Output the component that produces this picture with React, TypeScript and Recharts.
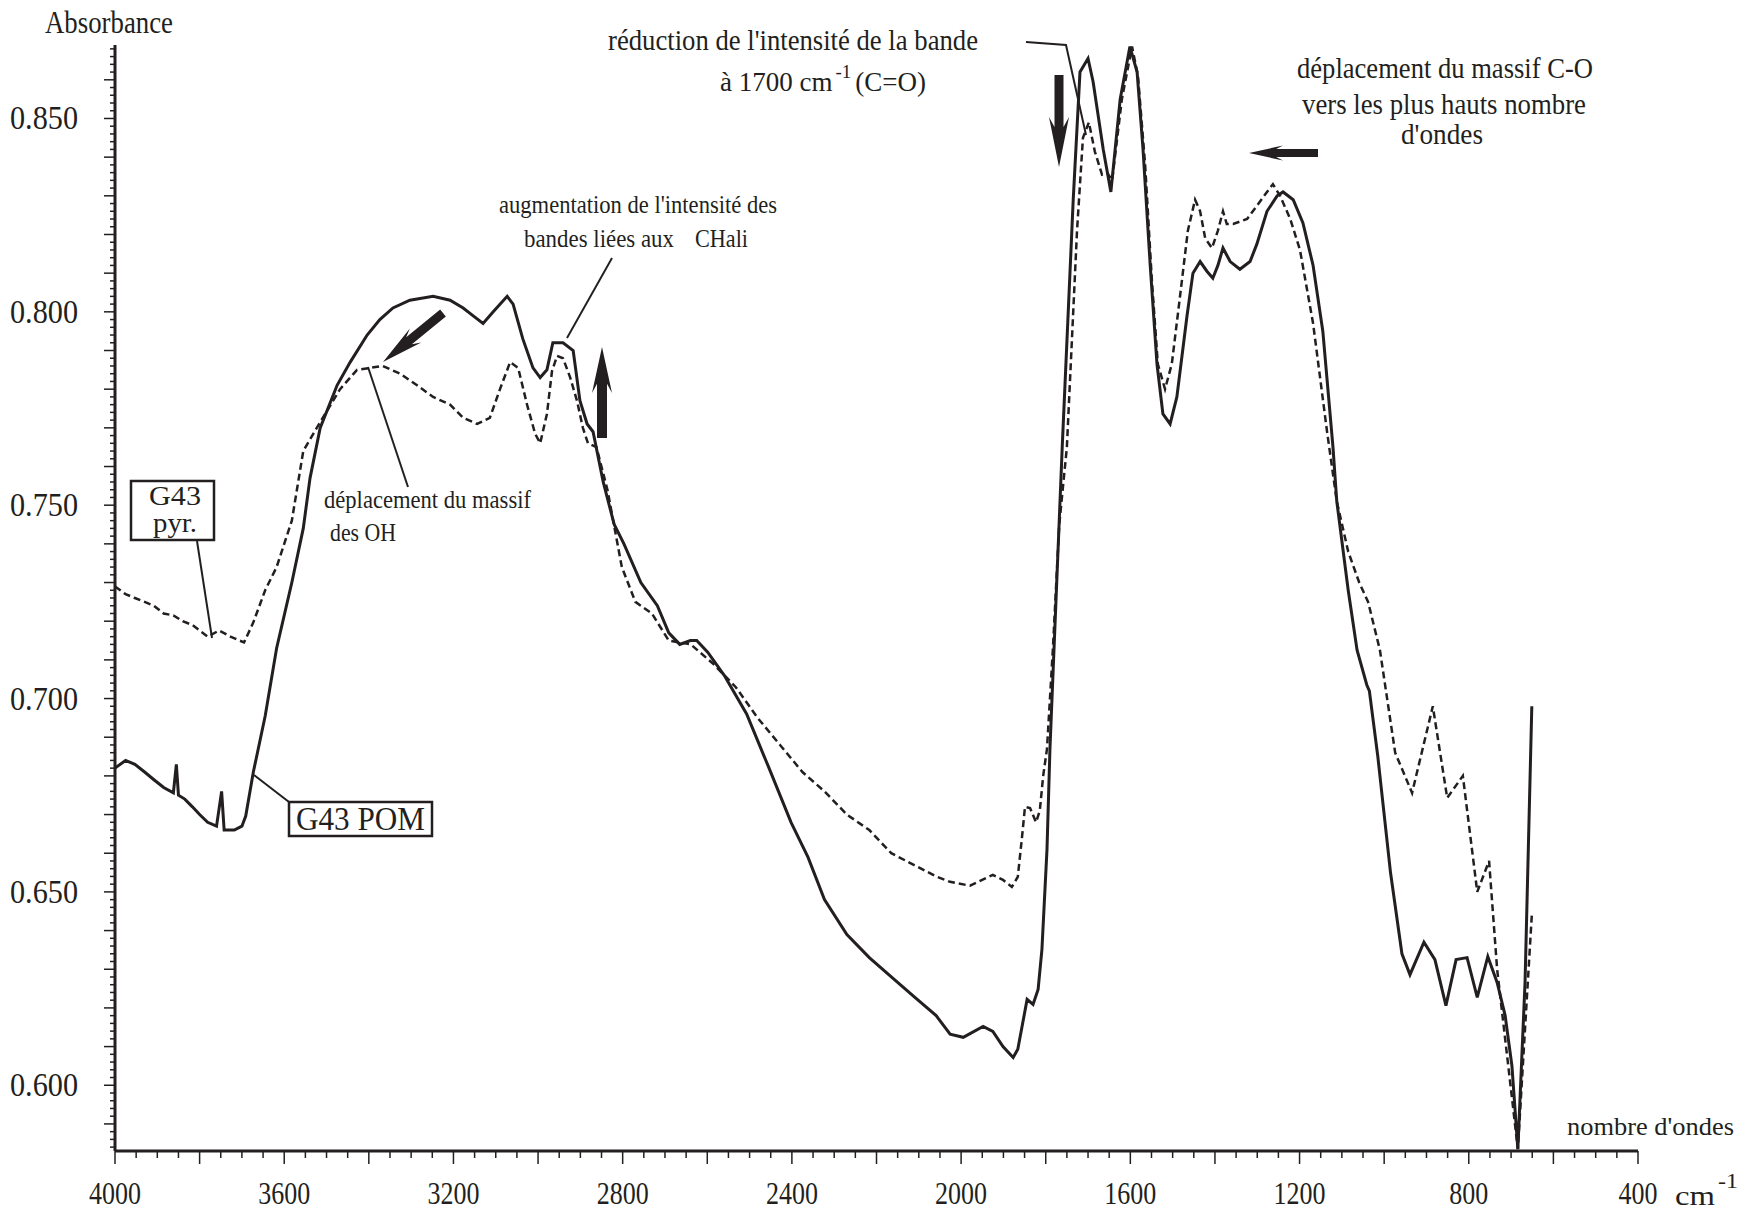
import { Line, LineChart, XAxis, YAxis } from "recharts";

// G43 POM (solid line) : wavenumber (cm-1) / absorbance
const pomWn = [
  4000, 3975, 3953, 3930, 3908, 3885, 3862, 3855, 3850, 3835, 3817, 3800, 3781, 3760, 3748, 3742, 3718, 3700,
  3691, 3673, 3645, 3618, 3582, 3555, 3539, 3515, 3475, 3444, 3404, 3374, 3343, 3303, 3248, 3208, 3177, 3154,
  3130, 3106, 3073, 3059, 3036, 3012, 2995, 2979, 2965, 2941, 2917, 2901, 2884, 2870, 2846, 2820, 2797, 2757,
  2718, 2691, 2665, 2640, 2625, 2599, 2560, 2507, 2454, 2402, 2362, 2323, 2270, 2217, 2165, 2112, 2059, 2026,
  1995, 1948, 1925, 1901, 1877, 1866, 1844, 1830, 1818, 1809, 1797, 1790, 1761, 1735, 1719, 1700, 1688, 1664,
  1646, 1624, 1601, 1584, 1570, 1553, 1537, 1523, 1506, 1490, 1466, 1452, 1435, 1419, 1405, 1393, 1381, 1364,
  1341, 1317, 1301, 1277, 1253, 1239, 1215, 1192, 1168, 1145, 1121, 1112, 1085, 1064, 1041, 1035, 1015, 985,
  958, 939, 906, 880, 854, 830, 804, 780, 755, 733, 714, 698, 684, 667, 651,
];
const pomAbs = [
  0.682, 0.684, 0.683, 0.681, 0.679, 0.677, 0.6756, 0.683, 0.675, 0.674, 0.672, 0.67, 0.668, 0.667, 0.676, 0.666,
  0.666, 0.667, 0.6696, 0.681, 0.6955, 0.713, 0.73, 0.744, 0.757, 0.77, 0.781, 0.787, 0.794, 0.798, 0.801, 0.803,
  0.804, 0.803, 0.801, 0.799, 0.797, 0.8, 0.804, 0.802, 0.793, 0.7855, 0.783, 0.785, 0.792, 0.792, 0.79, 0.777,
  0.771, 0.769, 0.756, 0.745, 0.74, 0.73, 0.724, 0.717, 0.714, 0.715, 0.715, 0.712, 0.706, 0.696, 0.682, 0.668,
  0.659, 0.648, 0.639, 0.633, 0.628, 0.623, 0.618, 0.6132, 0.6124, 0.6152, 0.6139, 0.61, 0.6072, 0.6093, 0.6222,
  0.6209, 0.6248, 0.6351, 0.661, 0.687, 0.765, 0.829, 0.862, 0.8655, 0.8595, 0.842, 0.831, 0.855, 0.8686, 0.862,
  0.842, 0.812, 0.7865, 0.7736, 0.771, 0.778, 0.799, 0.81, 0.813, 0.8105, 0.8087, 0.812, 0.8165, 0.813, 0.811,
  0.813, 0.8175, 0.826, 0.83, 0.831, 0.829, 0.823, 0.812, 0.795, 0.765, 0.751, 0.728, 0.7125, 0.7035, 0.702,
  0.685, 0.655, 0.634, 0.6286, 0.637, 0.6325, 0.6206, 0.6325, 0.633, 0.6227, 0.6333, 0.6266, 0.618, 0.605, 0.5835,
  0.6266, 0.698,
];

// G43 pyr. (dashed line)
const pyrWn = [
  4000, 3975, 3953, 3930, 3908, 3885, 3862, 3840, 3817, 3781, 3754, 3727, 3695, 3673, 3645, 3618, 3582, 3555,
  3523, 3468, 3428, 3397, 3367, 3326, 3286, 3248, 3208, 3177, 3144, 3114, 3090, 3066, 3047, 3026, 3007, 2995,
  2979, 2967, 2955, 2941, 2924, 2908, 2894, 2882, 2862, 2836, 2802, 2770, 2731, 2691, 2639, 2586, 2533, 2481,
  2428, 2375, 2323, 2270, 2217, 2165, 2112, 2059, 2026, 1979, 1925, 1901, 1880, 1866, 1856, 1849, 1837, 1823,
  1814, 1806, 1797, 1783, 1768, 1750, 1726, 1712, 1698, 1684, 1667, 1655, 1643, 1620, 1596, 1582, 1565, 1549,
  1535, 1518, 1502, 1483, 1464, 1447, 1435, 1423, 1407, 1393, 1381, 1372, 1357, 1324, 1293, 1277, 1263, 1246,
  1222, 1199, 1168, 1135, 1112, 1085, 1059, 1038, 1010, 974, 934, 885, 851, 814, 780, 752, 733, 684, 651,
];
const pyrAbs = [
  0.729, 0.727, 0.726, 0.725, 0.724, 0.722, 0.7215, 0.72, 0.719, 0.716, 0.7176, 0.716, 0.7145, 0.7197, 0.728,
  0.734, 0.746, 0.764, 0.77, 0.78, 0.785, 0.7855, 0.786, 0.784, 0.781, 0.778, 0.776, 0.7726, 0.771, 0.7726, 0.78,
  0.787, 0.7855, 0.776, 0.7685, 0.766, 0.7736, 0.7847, 0.7886, 0.788, 0.783, 0.777, 0.77, 0.766, 0.765, 0.754,
  0.734, 0.725, 0.722, 0.715, 0.714, 0.709, 0.703, 0.695, 0.688, 0.681, 0.676, 0.67, 0.666, 0.66, 0.657, 0.654,
  0.6526, 0.6516, 0.6544, 0.6531, 0.6513, 0.6539, 0.6642, 0.672, 0.6717, 0.668, 0.671, 0.68, 0.687, 0.713, 0.745,
  0.765, 0.821, 0.845, 0.849, 0.8415, 0.8355, 0.836, 0.834, 0.855, 0.8686, 0.861, 0.838, 0.808, 0.7865, 0.78,
  0.7865, 0.8036, 0.821, 0.829, 0.826, 0.819, 0.8165, 0.821, 0.826, 0.8227, 0.8227, 0.824, 0.8286, 0.831, 0.833,
  0.83, 0.824, 0.816, 0.797, 0.769, 0.751, 0.738, 0.73, 0.725, 0.7125, 0.686, 0.6756, 0.698, 0.6743, 0.68, 0.65,
  0.658, 0.63, 0.5835, 0.644,
];

const xLabels = [4000, 3600, 3200, 2800, 2400, 2000, 1600, 1200, 800, 400];
const yLabels = [0.6, 0.65, 0.7, 0.75, 0.8, 0.85];

const pomData = pomWn.map((wn, i) => ({ wn, v: pomAbs[i] }));
const pyrData = pyrWn.map((wn, i) => ({ wn, v: pyrAbs[i] }));

// minor ticks every 50 cm-1 and every 0.002
const xTicks: number[] = [];
for (let w = 400; w <= 4000; w += 50) xTicks.push(w);
const yTicks: number[] = [];
for (let k = 292; k <= 434; k++) yTicks.push(k / 500);

const INK = "#231f20";
const FONT = "'Liberation Serif', 'Times New Roman', serif";

function XTick(props: any) {
  const { x, y, payload } = props;
  const v = payload.value;
  const long = v % 200 === 0;
  const s = String(v);
  return (
    <g>
      <line x1={x} x2={x} y1={y} y2={y + (long ? 13 : 7)} stroke={INK} strokeWidth={1.5} />
      {xLabels.includes(v) && (
        <text x={x} y={y + 53} textAnchor="middle" fill={INK} fontFamily={FONT} fontSize={32}
          textLength={13 * s.length} lengthAdjust="spacingAndGlyphs">
          {s}
        </text>
      )}
    </g>
  );
}

function YTick(props: any) {
  const { x, y, payload } = props;
  const k = Math.round(payload.value * 1000);
  const long = k % 10 === 0;
  const label = yLabels.some((l) => Math.round(l * 1000) === k);
  return (
    <g>
      <line x1={x} x2={x - (long ? 11 : 5)} y1={y} y2={y} stroke={INK} strokeWidth={1.5} />
      {label && (
        <text x={x - 37} y={y + 11} textAnchor="end" fill={INK} fontFamily={FONT} fontSize={33}
          textLength={68} lengthAdjust="spacingAndGlyphs">
          {(k / 1000).toFixed(3)}
        </text>
      )}
    </g>
  );
}

// filled arrow from tail to tip
function arrow(x1: number, y1: number, x2: number, y2: number, sw: number, hl: number, hw: number) {
  const dx = x2 - x1, dy = y2 - y1;
  const len = Math.hypot(dx, dy);
  const ux = dx / len, uy = dy / len;
  const nx = -uy, ny = ux;
  const p = (a: number, b: number) => `${x1 + ux * a + nx * b},${y1 + uy * a + ny * b}`;
  const back = len - hl;
  const notch = len - hl * 0.8;
  return [
    p(len, 0), p(back, hw / 2), p(notch, sw / 2), p(0, sw / 2),
    p(0, -sw / 2), p(notch, -sw / 2), p(back, -hw / 2),
  ].join(" ");
}

function T(props: any) {
  const { children, ...rest } = props;
  return (
    <text fill={INK} fontFamily={FONT} lengthAdjust="spacingAndGlyphs" {...rest}>
      {children}
    </text>
  );
}

function Annotations() {
  return (
    <svg width={1747} height={1213} style={{ position: "absolute", left: 0, top: 0, pointerEvents: "none" }}>
      <T x={45} y={33} fontSize={31} textLength={128}>Absorbance</T>
      <T x={1567} y={1135} fontSize={26} textLength={167}>nombre d'ondes</T>
      <T x={1675} y={1205} fontSize={28} textLength={40}>cm</T>
      <T x={1718} y={1188} fontSize={22} textLength={20}>-1</T>

      {/* C=O */}
      <T x={608} y={50} fontSize={29} textLength={370}>réduction de l'intensité de la bande</T>
      <text x={720} y={91} fill={INK} fontFamily={FONT} fontSize={27}>
        à 1700 cm
        <tspan dx={3} dy={-13} fontSize={19}>-1</tspan>
        <tspan dx={4} dy={13}>(C=O)</tspan>
      </text>
      <polyline points="1026,42 1066,45 1086,135" fill="none" stroke={INK} strokeWidth={2} />
      <polygon points={arrow(1059, 75, 1059, 167, 9, 50, 20)} fill={INK} />

      {/* C-O */}
      <T x={1297} y={78} fontSize={30} textLength={296}>déplacement du massif C-O</T>
      <T x={1302} y={114} fontSize={29} textLength={284}>vers les plus hauts nombre</T>
      <T x={1401} y={144} fontSize={29} textLength={82}>d'ondes</T>
      <polygon points={arrow(1318, 153, 1249, 153, 8, 34, 15)} fill={INK} />

      {/* CHali */}
      <T x={499} y={213} fontSize={26} textLength={278}>augmentation de l'intensité des</T>
      <T x={524} y={247} fontSize={26} textLength={150}>bandes liées aux</T>
      <T x={695} y={247} fontSize={26} textLength={53}>CHali</T>
      <line x1={612} y1={258} x2={567} y2={338} stroke={INK} strokeWidth={2} />
      <polygon points={arrow(602, 438, 602, 347, 10, 46, 20)} fill={INK} />

      {/* OH */}
      <T x={324} y={508} fontSize={26} textLength={207}>déplacement du massif</T>
      <T x={330} y={541} fontSize={26} textLength={66}>des OH</T>
      <line x1={368} y1={367} x2={408} y2={487} stroke={INK} strokeWidth={2} />
      <polygon points={arrow(443, 313, 383, 362, 9, 42, 18)} fill={INK} />

      {/* sample labels */}
      <rect x={131} y={481} width={83} height={59} fill="#fff" stroke={INK} strokeWidth={2.5} />
      <T x={175} y={505} fontSize={27} textAnchor="middle" textLength={52}>G43</T>
      <T x={175} y={532} fontSize={27} textAnchor="middle" textLength={44}>pyr.</T>
      <line x1={197} y1={541} x2={212} y2={638} stroke={INK} strokeWidth={2} />

      <rect x={289} y={802} width={143} height={34} fill="#fff" stroke={INK} strokeWidth={2.5} />
      <T x={296} y={830} fontSize={33} textLength={129}>G43 POM</T>
      <line x1={289} y1={802} x2={254} y2={775} stroke={INK} strokeWidth={2} />
    </svg>
  );
}

export default function App() {
  return (
    <div style={{ position: "absolute", left: 0, top: 0, width: 1747, height: 1213, background: "#fff" }}>
      <LineChart width={1747} height={1213} margin={{ top: 45, right: 109, bottom: 2, left: 15 }}>
        <XAxis
          type="number"
          dataKey="wn"
          domain={[400, 4000]}
          reversed
          allowDataOverflow
          ticks={xTicks}
          interval={0}
          height={60}
          tickSize={0}
          tickMargin={0}
          tickLine={false}
          tick={<XTick />}
          axisLine={{ stroke: INK, strokeWidth: 3 }}
        />
        <YAxis
          type="number"
          domain={[0.583, 0.869]}
          allowDataOverflow
          ticks={yTicks}
          interval={0}
          width={100}
          tickSize={0}
          tickMargin={0}
          tickLine={false}
          tick={<YTick />}
          axisLine={{ stroke: INK, strokeWidth: 3 }}
        />
        <Line
          data={pyrData}
          dataKey="v"
          type="linear"
          stroke={INK}
          strokeWidth={2.5}
          strokeDasharray="7 4"
          dot={false}
          isAnimationActive={false}
        />
        <Line
          data={pomData}
          dataKey="v"
          type="linear"
          stroke={INK}
          strokeWidth={3}
          dot={false}
          isAnimationActive={false}
        />
      </LineChart>
      <Annotations />
    </div>
  );
}
